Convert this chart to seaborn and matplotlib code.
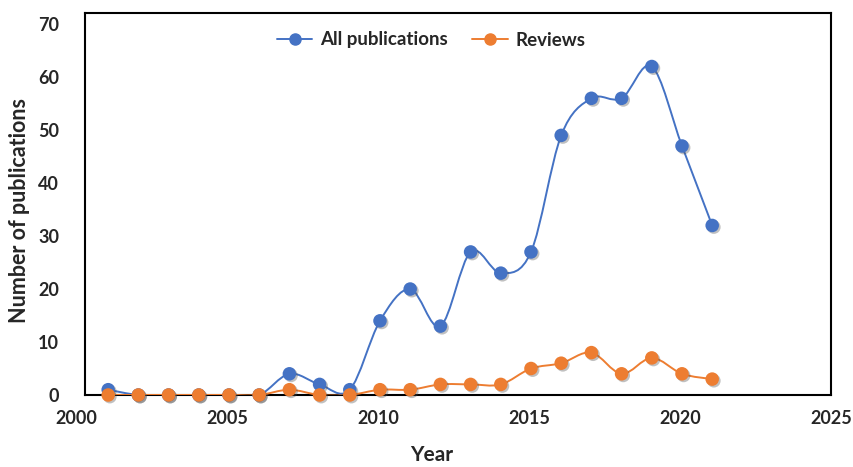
import numpy as np
import pandas as pd
import matplotlib
matplotlib.use("Agg")
import matplotlib.pyplot as plt
import matplotlib.patheffects as pe
from matplotlib.path import Path
from matplotlib.patches import PathPatch
from matplotlib.lines import Line2D
from matplotlib.transforms import blended_transform_factory
import seaborn as sns

years = list(range(2001, 2022))
all_pubs = [1, 0, 0, 0, 0, 0, 4, 2, 1, 14, 20, 13, 27, 23, 27, 49, 56, 56, 62, 47, 32]
reviews = [0, 0, 0, 0, 0, 0, 1, 0, 0, 1, 1, 2, 2, 2, 5, 6, 8, 4, 7, 4, 3]
series_names = ["All publications", "Reviews"]
colors = ["#4472C4", "#ED7D31"]
x_tick_labels = [2000, 2005, 2010, 2015, 2020, 2025]
y_ticks = [0, 10, 20, 30, 40, 50, 60, 70]

df = pd.concat([
    pd.DataFrame({"Year": years, "value": all_pubs, "series": series_names[0]}),
    pd.DataFrame({"Year": years, "value": reviews, "series": series_names[1]}),
])


def smooth_path(x, y):
    # Excel-style smoothed line: Catmull-Rom segments as cubic Bezier curves
    pts = np.column_stack([x, y]).astype(float)
    ext = np.vstack([pts[0], pts, pts[-1]])
    verts = [pts[0]]
    codes = [Path.MOVETO]
    for i in range(1, len(ext) - 2):
        p0, p1, p2, p3 = ext[i - 1], ext[i], ext[i + 1], ext[i + 2]
        verts += [p1 + (p2 - p0) / 6, p2 - (p3 - p1) / 6, p2]
        codes += [Path.CURVE4] * 3
    return Path(verts, codes)


sns.set_style("white")
plt.rcParams["font.family"] = ["Lato", "DejaVu Sans"]

fig = plt.figure(figsize=(8.54, 4.67), dpi=100)
ax = fig.add_axes([85 / 854, 1 - 395 / 467, 746 / 854, 382 / 467])

shadow = [pe.SimplePatchShadow(offset=(1.2, -1.2), alpha=0.35, shadow_rgbFace="0.3"), pe.Normal()]
for k, name in enumerate(series_names):
    sub = df[df["series"] == name]
    patch = PathPatch(smooth_path(sub["Year"], sub["value"]), facecolor="none",
                      edgecolor=colors[k], lw=1.4, zorder=3 + 2 * k)
    ax.add_patch(patch)
    sc = sns.scatterplot(data=sub, x="Year", y="value", color=colors[k], s=95,
                         edgecolor="none", ax=ax, zorder=4 + 2 * k, legend=False)
    sc.collections[-1].set_path_effects(shadow)
    sc.collections[-1].set_clip_on(False)

ax.set_xlim(2000 + 7 / 30.2, 2000 + 753 / 30.2)
ax.set_ylim(0, 72.1)
ax.set_yticks(y_ticks)
ax.set_xticks([])
ax.tick_params(axis="y", length=0, pad=18.5, labelsize=13)
for lab in ax.get_yticklabels():
    lab.set_fontweight("bold")

trans = blended_transform_factory(ax.transData, ax.transAxes)
for t in x_tick_labels:
    ax.text(t - 0.05, -0.062, str(t), transform=trans, ha="center", va="center",
            fontsize=13, fontweight="bold", clip_on=False)

for sp in ax.spines.values():
    sp.set_visible(True)
    sp.set_color("black")
    sp.set_linewidth(1.5)
    sp.set_zorder(2)

ax.set_xlabel("")
ax.set_ylabel("")
fig.text(20 / 854, 1 - 210 / 467, "Number of publications", rotation=90,
         ha="center", va="center", fontsize=15.5, fontweight="bold")
fig.text(432 / 854, 1 - 455 / 467, "Year", ha="center", va="center",
         fontsize=15, fontweight="bold")

handles = [Line2D([], [], color=c, lw=1.4, marker="o", markersize=8) for c in colors]
leg = ax.legend(handles, series_names, loc="center", ncol=2, frameon=False,
                bbox_to_anchor=(431 / 854, 1 - 40 / 467), bbox_transform=fig.transFigure,
                handlelength=1.9, handletextpad=0.4, columnspacing=1.3,
                prop={"weight": "bold", "size": 13.5})

fig.savefig("out.png", dpi=100)
